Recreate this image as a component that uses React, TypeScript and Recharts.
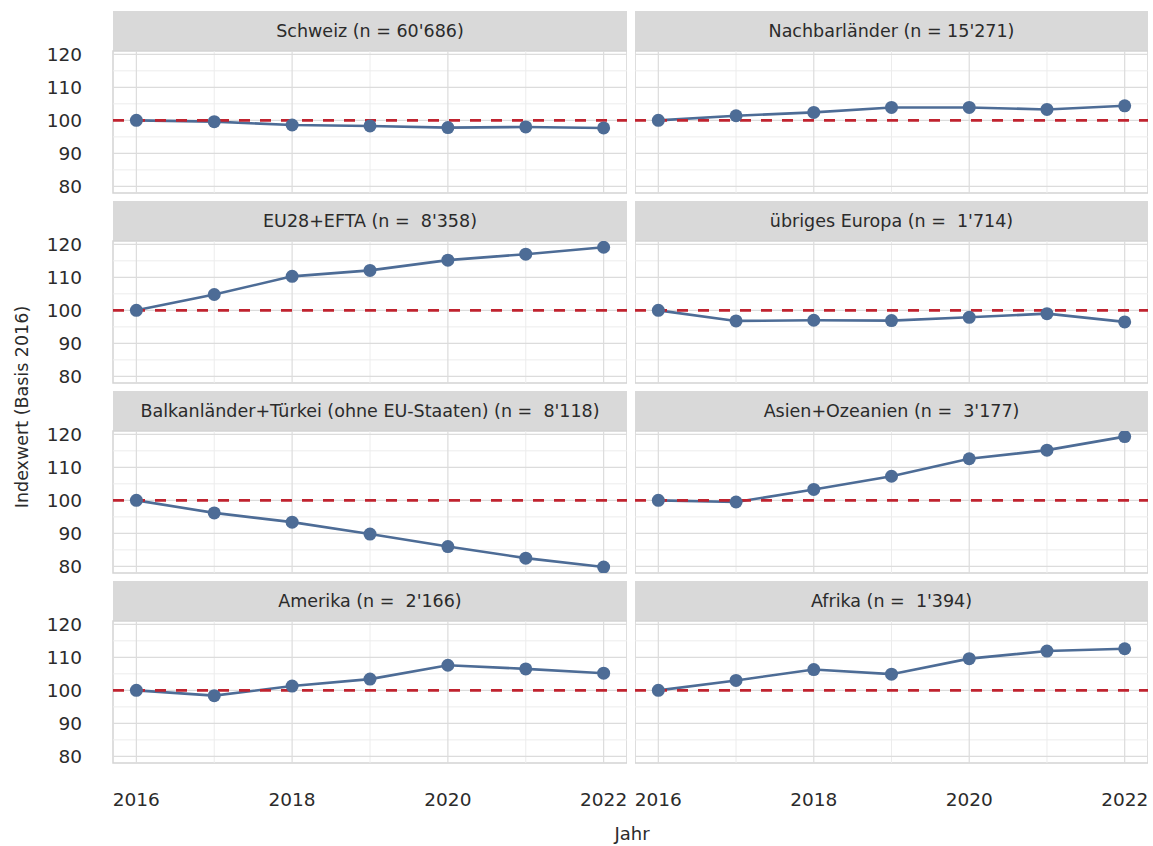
import { LineChart, Line, XAxis, YAxis, ReferenceLine, ReferenceArea } from "recharts";

// Indexwert (Basis 2016) nach Herkunftsregion
const years = [2016, 2017, 2018, 2019, 2020, 2021, 2022];

const schweiz = [100, 99.6, 98.6, 98.3, 97.8, 98.0, 97.7];
const nachbarlaender = [100, 101.4, 102.4, 103.9, 103.9, 103.3, 104.4];
const eu28Efta = [100, 104.8, 110.3, 112.1, 115.2, 117.0, 119.1];
const uebrigesEuropa = [100, 96.8, 97.0, 96.9, 97.9, 99.0, 96.5];
const balkanTuerkei = [100, 96.2, 93.4, 89.8, 86.0, 82.5, 79.8];
const asienOzeanien = [100, 99.5, 103.3, 107.3, 112.6, 115.2, 119.3];
const amerika = [100, 98.4, 101.3, 103.4, 107.6, 106.5, 105.2];
const afrika = [100, 103.0, 106.3, 104.9, 109.6, 111.9, 112.6];

const panelTitles = [
  "Schweiz (n = 60'686)",
  "Nachbarländer (n = 15'271)",
  "EU28+EFTA (n =  8'358)",
  "übriges Europa (n =  1'714)",
  "Balkanländer+Türkei (ohne EU-Staaten) (n =  8'118)",
  "Asien+Ozeanien (n =  3'177)",
  "Amerika (n =  2'166)",
  "Afrika (n =  1'394)",
];
const panelValues = [
  schweiz, nachbarlaender, eu28Efta, uebrigesEuropa,
  balkanTuerkei, asienOzeanien, amerika, afrika,
];

const yMajor = [80, 90, 100, 110, 120];
const yMinor = [85, 95, 105, 115];
const xMajor = [2016, 2018, 2020, 2022];
const xMinor = [2017, 2019, 2021];
const baseline = 100;

const X_DOMAIN: [number, number] = [2015.7, 2022.3];
const Y_DOMAIN: [number, number] = [78, 121];

const LINE_COLOR = "#4d6c96";
const REF_COLOR = "#c0232f";
const TEXT_COLOR = "#2b2b2b";
const PAD = 14; // room so the outer tick labels are not clipped

function Panel({ title, values, col, row }: { title: string; values: number[]; col: number; row: number }) {
  const isLeft = col === 0;
  const isBottom = row === 3;
  const data = years.map((year, i) => ({ year, value: values[i] }));

  const plotW = isLeft ? 514 : 513;
  const yAxisW = isLeft ? 113 : 0;
  const xAxisH = isBottom ? 60 : 0;
  const left = isLeft ? 0 : 635;
  const top = 51 + row * 190;

  return (
    <>
      <div
        style={{
          position: "absolute",
          left: left + yAxisW,
          top: top - 40,
          width: plotW,
          height: 40,
          background: "#d9d9d9",
          color: TEXT_COLOR,
          fontSize: 17.5,
          lineHeight: "40px",
          textAlign: "center",
          whiteSpace: "pre",
        }}
      >
        {title}
      </div>
      <div style={{ position: "absolute", left, top: top - PAD }}>
        <LineChart
          width={yAxisW + plotW}
          height={142 + xAxisH + PAD * 2}
          data={data}
          margin={{ top: PAD, right: 0, bottom: PAD, left: 0 }}
        >
          <XAxis
            dataKey="year"
            type="number"
            domain={X_DOMAIN}
            allowDataOverflow
            ticks={years}
            interval={0}
            hide={!isBottom}
            height={xAxisH}
            axisLine={false}
            tickLine={false}
            tickSize={0}
            tickMargin={30}
            tick={{ fill: TEXT_COLOR, fontSize: 18.5 }}
            tickFormatter={(v: number) => (v % 2 === 0 ? String(v) : "")}
          />
          <YAxis
            type="number"
            domain={Y_DOMAIN}
            allowDataOverflow
            ticks={yMajor}
            interval={0}
            hide={!isLeft}
            width={yAxisW}
            axisLine={false}
            tickLine={false}
            tickSize={0}
            tickMargin={31}
            tick={{ fill: TEXT_COLOR, fontSize: 18.5 }}
          />
          {yMinor.map((v) => (
            <ReferenceLine key={`ym-${v}`} y={v} stroke="#ececec" strokeWidth={1} />
          ))}
          {xMinor.map((v) => (
            <ReferenceLine key={`xm-${v}`} x={v} stroke="#ececec" strokeWidth={1} />
          ))}
          {yMajor.map((v) => (
            <ReferenceLine key={`yM-${v}`} y={v} stroke="#dcdcdc" strokeWidth={1.2} />
          ))}
          {xMajor.map((v) => (
            <ReferenceLine key={`xM-${v}`} x={v} stroke="#dcdcdc" strokeWidth={1.2} />
          ))}
          <ReferenceArea
            x1={X_DOMAIN[0]}
            x2={X_DOMAIN[1]}
            y1={Y_DOMAIN[0]}
            y2={Y_DOMAIN[1]}
            fill="none"
            stroke="#d4d4d4"
            strokeWidth={1.5}
          />
          <Line
            dataKey="value"
            type="linear"
            stroke={LINE_COLOR}
            strokeWidth={2.6}
            dot={false}
            activeDot={false}
            isAnimationActive={false}
          />
          <ReferenceLine y={baseline} stroke={REF_COLOR} strokeWidth={2.6} strokeDasharray="11 10" />
          <Line
            dataKey="value"
            type="linear"
            stroke="none"
            dot={{ r: 6.5, fill: LINE_COLOR, stroke: LINE_COLOR, strokeWidth: 0 }}
            activeDot={false}
            isAnimationActive={false}
          />
        </LineChart>
      </div>
    </>
  );
}

export default function App() {
  return (
    <div
      style={{
        position: "absolute",
        left: 0,
        top: 0,
        width: 1153,
        height: 846,
        background: "#ffffff",
        fontFamily: "'DejaVu Sans', sans-serif",
        overflow: "hidden",
      }}
    >
      {panelTitles.map((title, i) => (
        <Panel key={title} title={title} values={panelValues[i]} col={i % 2} row={Math.floor(i / 2)} />
      ))}
      <div
        style={{
          position: "absolute",
          left: 22,
          top: 407,
          transform: "translate(-50%, -50%) rotate(-90deg)",
          whiteSpace: "nowrap",
          fontSize: 17.5,
          color: TEXT_COLOR,
        }}
      >
        Indexwert (Basis 2016)
      </div>
      <div
        style={{
          position: "absolute",
          left: 632,
          top: 833,
          transform: "translate(-50%, -50%)",
          fontSize: 18,
          color: TEXT_COLOR,
        }}
      >
        Jahr
      </div>
    </div>
  );
}
